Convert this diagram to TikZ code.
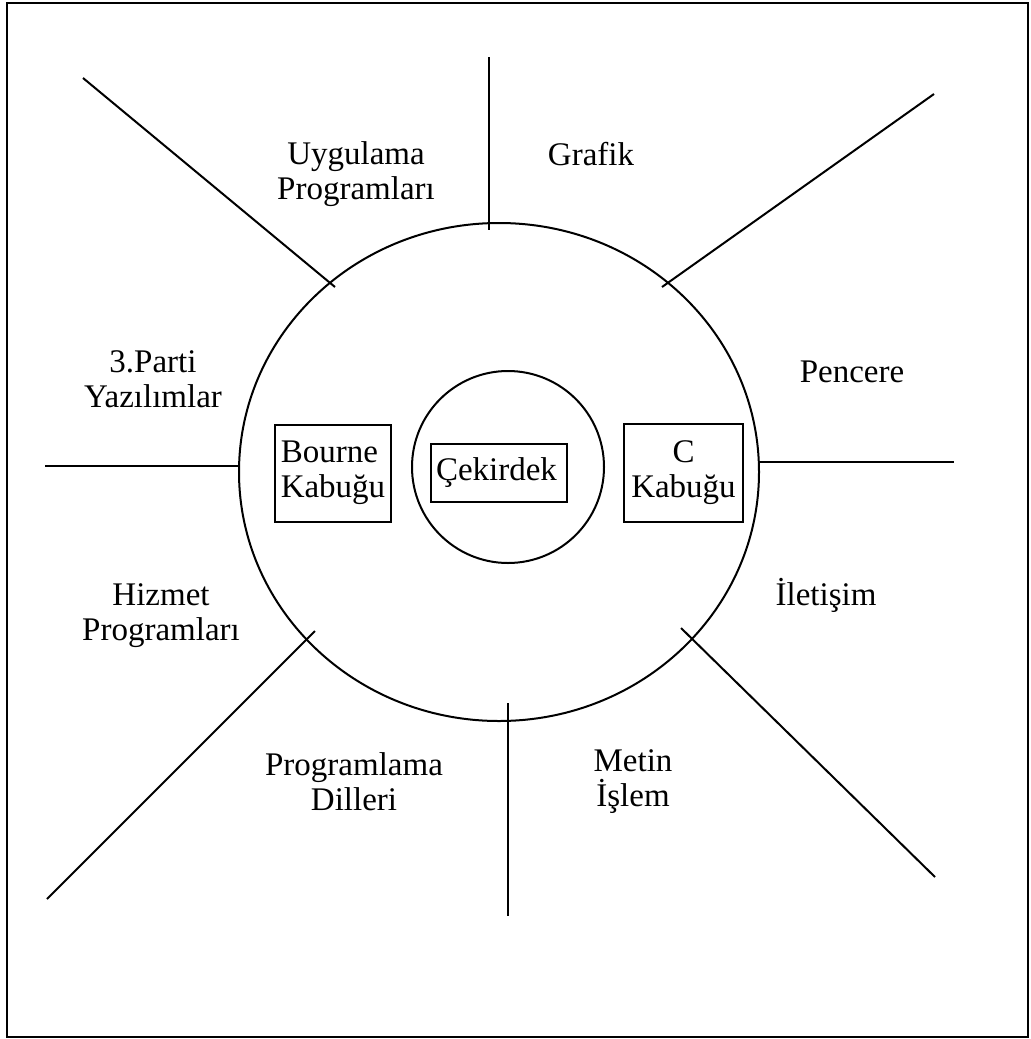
\documentclass[tikz,border=0pt]{standalone}
\usepackage{fontspec}
\setmainfont{Liberation Serif}
\usetikzlibrary{positioning,shapes.geometric}
\tikzset{ring node/.style={draw,line width=1pt,inner sep=0pt},
  box node/.style={draw,line width=1pt,inner sep=2pt,font=\fontsize{16.5}{17.5}\selectfont},
  label node/.style={align=center,font=\fontsize{16.5}{17.5}\selectfont},}

\begin{document}
\begin{tikzpicture}[x=0.5pt,y=-0.5pt]
    \useasboundingbox (0,0) rectangle (1030,1039);
    \draw[line width=0.9pt] (7,3) rectangle (1028,1037);

    \node[ring node,ellipse,minimum width=260pt,minimum height=249pt] (shell) at (499,472) {};
    \node[ring node,circle,minimum size=96pt] (kernel) at (508,467) {};

    \node[box node,minimum width=68pt,minimum height=29pt,align=left,text width=63pt] (core) at (499,473) {Çekirdek};
    \node[box node,minimum width=58pt,minimum height=48.5pt,align=left] (bourne) [left = 19pt of core] {Bourne\\Kabuğu};
    \node[box node,minimum width=59.5pt,minimum height=49pt,align=center] (cshell) [right = 27.5pt of core] {C\\Kabuğu};

    \node[label node] (uyg) at (356,174) {Uygulama\\Programları};
    \node[label node] (graf) at (591,154) {Grafik};
    \node[label node] (parti) at (153,379) {3.Parti\\Yazılımlar};
    \node[label node] (pen) at (852,372) {Pencere};
    \node[label node] (hiz) at (161,616) {Hizmet\\Programları};
    \node[label node] (ilet) at (826,595) {İletişim};
    \node[label node] (prog) at (354,782) {Programlama\\Dilleri};
    \node[label node] (metin) at (633,782) {Metin\\İşlem};

    \coordinate (1a) at (83,78);   \coordinate (1b) at (335,287);
    \coordinate (2a) at (489,57);  \coordinate (2b) at (489,230);
    \coordinate (3a) at (934,94);  \coordinate (3b) at (662,287);
    \coordinate (4a) at (45,466);  \coordinate (4b) at (239,466);
    \coordinate (5a) at (759,462); \coordinate (5b) at (954,462);
    \coordinate (6a) at (47,899);  \coordinate (6b) at (315,631);
    \coordinate (7a) at (508,703); \coordinate (7b) at (508,916);
    \coordinate (8a) at (681,628); \coordinate (8b) at (935,877);

    \path[draw,line width=1pt]
    (1a) edge (1b)
    (2a) edge (2b)
    (3a) edge (3b)
    (4a) edge (4b)
    (5a) edge (5b)
    (6a) edge (6b)
    (7a) edge (7b)
    (8a) edge (8b);
\end{tikzpicture}
\end{document}
